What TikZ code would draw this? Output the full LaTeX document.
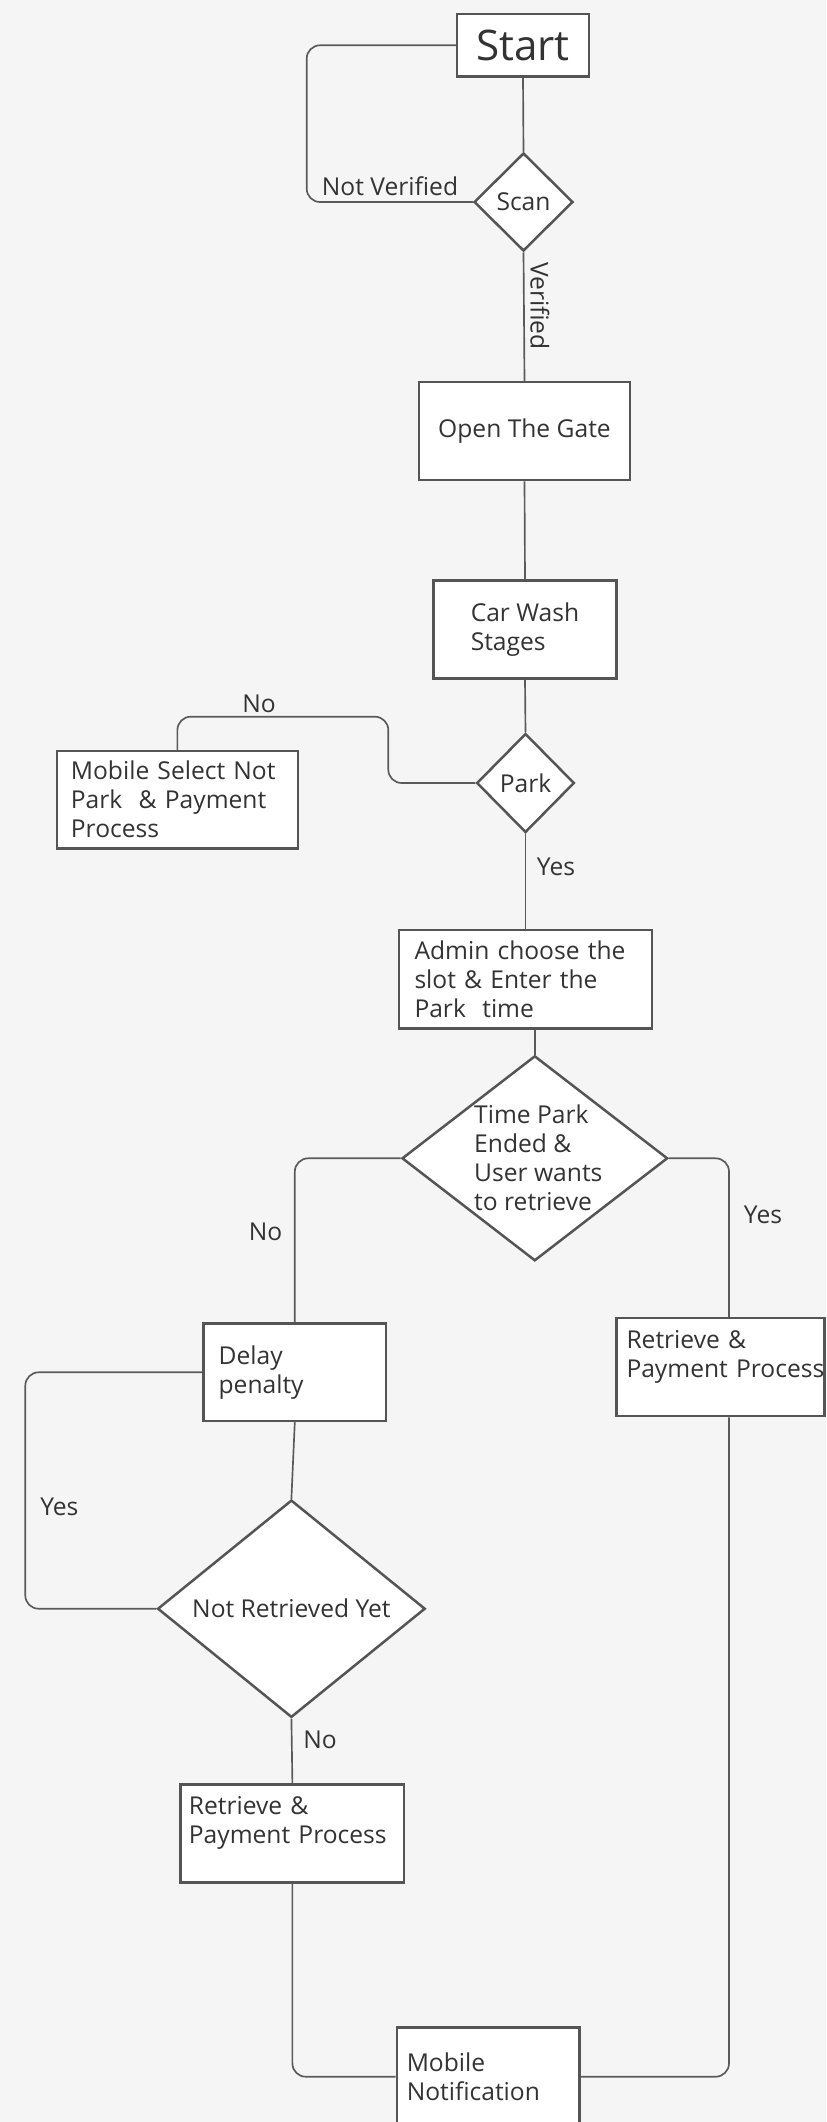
\documentclass[tikz,border=0pt]{standalone}
\usepackage{fontspec}
\setmainfont{Open Sans}
\usetikzlibrary{shapes.geometric}
\definecolor{bggray}{HTML}{F5F5F5}
\definecolor{edgegray}{HTML}{555555}
\definecolor{linegray}{HTML}{5A5A5A}
\definecolor{txtgray}{HTML}{333333}
\tikzset{
  proc/.style={draw=edgegray, fill=white, line width=0.075cm, text=txtgray,
    font=\fontsize{21}{24.7}\selectfont, align=left, inner xsep=0pt, inner ysep=0pt},
  decide/.style={proc, shape=diamond, align=center},
  conn/.style={draw=linegray, line width=0.05cm, rounded corners=0.4cm},
  lbl/.style={text=txtgray, font=\fontsize{21}{24.7}\selectfont, inner sep=0pt},
}
\begin{document}
\begin{tikzpicture}[x=0.03cm,y=-0.03cm]
\useasboundingbox (0,0) rectangle (826,2122);
\fill[bggray] (0,0) rectangle (826,2122);

% boxes and decisions
\node[proc, font=\fontsize{36}{40}\selectfont, align=center, minimum width=3.95cm, minimum height=1.88cm] (start) at (523,45.3) {Start};
\node[decide, minimum width=2.97cm, minimum height=2.94cm] (scan) at (523.5,202) {Scan};
\node[proc, align=center, minimum width=6.33cm, minimum height=2.94cm] (gate) at (524.5,431) {Open The Gate};
\node[proc, minimum width=5.49cm, minimum height=2.93cm] (wash) at (525,629.5) {Car~Wash\\Stages};
\node[decide, minimum width=2.93cm, minimum height=2.97cm] (park) at (525.5,783) {Park};
\node[proc, minimum width=7.23cm, minimum height=2.92cm, text width=6.39cm] (mobsel) at (177.4,799.7) {Mobile~Select~Not\\Park~~\&~Payment\\Process};
\node[proc, minimum width=7.6cm, minimum height=2.95cm, text width=6.66cm] (admin) at (525.5,979.2) {Admin~choose~the\\slot~\&~Enter~the\\Park~~time};
\node[decide, minimum width=7.97cm, minimum height=6.15cm] (tpark) at (534.8,1158.3) {};
\node[lbl, align=left, anchor=west] (tparktxt) at (474,1158) {Time~Park\\Ended~\&\\User~wants\\to~retrieve};
\node[proc, minimum width=5.48cm, minimum height=2.92cm, text width=4.57cm] (delay) at (294.8,1372.3) {Delay\\penalty};
\node[proc, minimum width=6.25cm, minimum height=2.94cm, text width=5.64cm, text depth=1.65cm] (retr) at (720.5,1367) {Retrieve~\&\\\mbox{Payment Process}};
\node[decide, minimum width=8.03cm, minimum height=5.09cm] (nr) at (291.4,1608.7) {Not~Retrieved~Yet};
\node[proc, minimum width=6.7cm, minimum height=2.94cm, text width=6.21cm, text depth=1.65cm] (retl) at (292.4,1833.3) {Retrieve~\&\\\mbox{Payment Process}};
\node[proc, minimum width=5.48cm, minimum height=2.94cm, text width=4.88cm] (notif) at (488.1,2076.7) {Mobile\\Notification};

% bends
\coordinate (nvbend) at (306.7,202);
\coordinate (nobend) at (388.3,716.7);
\coordinate (yesright) at (729,1158.3);
\coordinate (yesleft) at (25.3,1608.7);

% connectors
\draw[conn] (start.south) -- (scan.north);
\draw[conn] (start.west) -| (nvbend) -- (scan.west);
\draw[conn] (scan.south) -- (gate.north);
\draw[conn] (gate.south) -- (wash.north);
\draw[conn] (wash.south) -- (park.north);
\draw[conn] (park.west) -| (nobend) -| (mobsel.north);
\draw[conn] (park.south) -- (admin.north);
\draw[conn] (tpark.north |- admin.south) -- (tpark.north);
\draw[conn] (tpark.west) -| (delay.north);
\draw[conn] (tpark.east) -| (yesright |- retr.north);
\draw[conn] (yesright |- retr.south) |- (notif.east);
\draw[conn] (delay.west) -| (yesleft) -- (nr.west);
\draw[conn] (delay.south) -- (nr.north);
\draw[conn] (nr.south) -- (retl.north);
\draw[conn] (retl.south) |- (notif.west);

% labels
\node[lbl] (nvlbl) at (390,186) {Not~Verified};
\node[lbl, rotate=-90] (vlbl) at (540,306) {Verified};
\node[lbl] (nolbl) at (259,704) {No};
\node[lbl] (yeslbl) at (556,867) {Yes};
\node[lbl] (nolblb) at (265.6,1232) {No};
\node[lbl] (yeslblb) at (763,1215) {Yes};
\node[lbl] (yeslblc) at (59.3,1507) {Yes};
\node[lbl] (nolblc) at (320,1740) {No};
\end{tikzpicture}
\end{document}
